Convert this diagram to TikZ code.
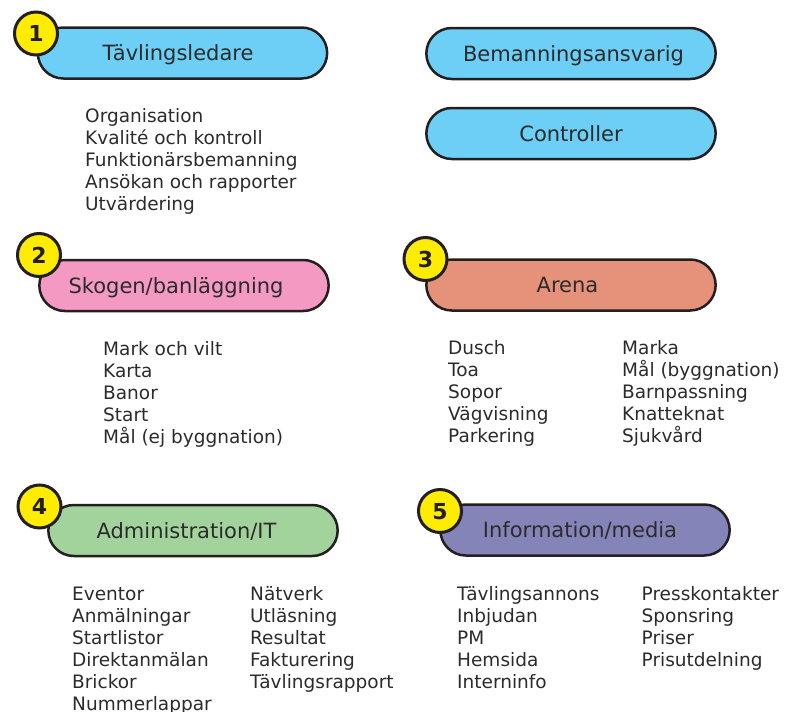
\documentclass[tikz,border=0pt]{standalone}
\usepackage{fontspec}
\setmainfont{DejaVu Sans}
\usetikzlibrary{shapes.misc}

\definecolor{ink}{HTML}{231F20}
\definecolor{txt}{HTML}{2B2B2B}
\definecolor{skyblue}{HTML}{6DCFF6}
\definecolor{rosepink}{HTML}{F49AC2}
\definecolor{salmon}{HTML}{E6927A}
\definecolor{sage}{HTML}{A3D39C}
\definecolor{lavender}{HTML}{8484B8}
\definecolor{badgeyellow}{HTML}{FFEC00}

\begin{document}
\begin{tikzpicture}[x=1pt, y=-1pt,
  pill/.style = {draw=ink, line width=2.5pt, rounded rectangle, minimum width=296pt,
    minimum height=51pt, text=txt, font=\fontsize{21}{24}\selectfont,
    text height=15pt, text depth=0pt},
  badge/.style = {draw=ink, line width=3pt, circle, fill=badgeyellow, minimum size=43pt,
    inner sep=0pt, text=ink, font=\bfseries\fontsize{22}{24}\selectfont,
    text height=16pt, text depth=0pt},
  list/.style = {anchor=base west, align=left, inner sep=0pt, text=txt,
    font=\fontsize{18.5}{22}\selectfont}]
\useasboundingbox (0,0) rectangle (785,712);

% upper row (lists are placed at the baseline of their last line)
\node[pill, fill=skyblue] (lead) at (182.5,53) {Tävlingsledare\kern9pt};
\node[badge] (n1) at (36,33.5) {1};
\node[pill, fill=skyblue] (staff) at (571,53.5) {\kern5pt Bemanningsansvarig};
\node[pill, fill=skyblue] (ctrl) at (571,133.5) {Controller};
\node[list] (leadlist) at (85,210.5) {Organisation\\Kvalité och kontroll\\Funktionärsbemanning\\Ansökan och rapporter\\Utvärdering};

% middle row
\node[pill, fill=rosepink] (forest) at (184,285.5) {Skogen/banläggning\kern16pt};
\node[badge] (n2) at (39,255) {2};
\node[list] (forestlist) at (103,443) {Mark och vilt\\Karta\\Banor\\Start\\Mål (ej byggnation)};

\node[pill, fill=salmon] (arena) at (571,285) {Arena\kern7pt};
\node[badge] (n3) at (425.5,259) {3};
\node[list] (arenaA) at (448,442) {Dusch\\Toa\\Sopor\\Vägvisning\\Parkering};
\node[list] (arenaB) at (622,442) {Marka\\Mål (byggnation)\\Barnpassning\\Knatteknat\\Sjukvård};

% lower row
\node[pill, fill=sage] (admin) at (193,530.5) {Administration/IT\kern13pt};
\node[badge] (n4) at (39.5,506.5) {4};
\node[list] (adminA) at (72,710) {Eventor\\Anmälningar\\Startlistor\\Direktanmälan\\Brickor\\Nummerlappar};
\node[list] (adminB) at (250,688) {Nätverk\\Utläsning\\Resultat\\Fakturering\\Tävlingsrapport};

\node[pill, fill=lavender] (info) at (585,530) {Information/media\kern10pt};
\node[badge] (n5) at (440,511) {5};
\node[list] (infoA) at (457,688) {Tävlingsannons\\Inbjudan\\PM\\Hemsida\\Interninfo};
\node[list] (infoB) at (641.5,666) {Presskontakter\\Sponsring\\Priser\\Prisutdelning};
\end{tikzpicture}
\end{document}
